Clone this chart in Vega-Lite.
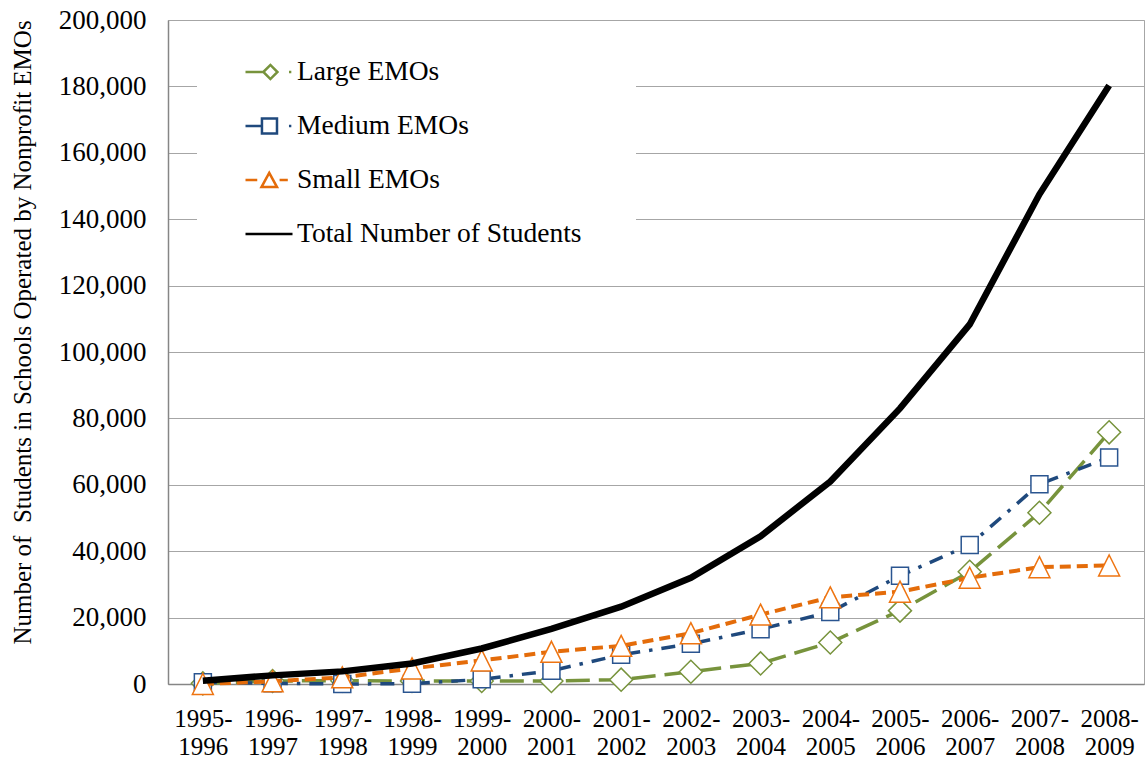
{
  "$schema": "https://vega.github.io/schema/vega-lite/v6.json",
  "width": 976,
  "height": 664,
  "autosize": {"type": "none"},
  "padding": {"left": 168, "top": 20, "right": 3, "bottom": 75},
  "background": "white",
  "config": {
    "view": {"stroke": "#a6a6a6", "strokeWidth": 1},
    "font": "Liberation Serif"
  },
  "data": {
    "values": [
      {"year": "1995-1996", "series": "Large EMOs", "value": 200},
      {"year": "1996-1997", "series": "Large EMOs", "value": 900},
      {"year": "1997-1998", "series": "Large EMOs", "value": 1000},
      {"year": "1998-1999", "series": "Large EMOs", "value": 900},
      {"year": "1999-2000", "series": "Large EMOs", "value": 900},
      {"year": "2000-2001", "series": "Large EMOs", "value": 900},
      {"year": "2001-2002", "series": "Large EMOs", "value": 1300},
      {"year": "2002-2003", "series": "Large EMOs", "value": 3700},
      {"year": "2003-2004", "series": "Large EMOs", "value": 6200},
      {"year": "2004-2005", "series": "Large EMOs", "value": 12500},
      {"year": "2005-2006", "series": "Large EMOs", "value": 22100},
      {"year": "2006-2007", "series": "Large EMOs", "value": 33800},
      {"year": "2007-2008", "series": "Large EMOs", "value": 51600},
      {"year": "2008-2009", "series": "Large EMOs", "value": 75800},
      {"year": "1995-1996", "series": "Medium EMOs", "value": 500},
      {"year": "1996-1997", "series": "Medium EMOs", "value": 200},
      {"year": "1997-1998", "series": "Medium EMOs", "value": 0},
      {"year": "1998-1999", "series": "Medium EMOs", "value": 100},
      {"year": "1999-2000", "series": "Medium EMOs", "value": 1400},
      {"year": "2000-2001", "series": "Medium EMOs", "value": 4000},
      {"year": "2001-2002", "series": "Medium EMOs", "value": 8800},
      {"year": "2002-2003", "series": "Medium EMOs", "value": 12100},
      {"year": "2003-2004", "series": "Medium EMOs", "value": 16500},
      {"year": "2004-2005", "series": "Medium EMOs", "value": 21700},
      {"year": "2005-2006", "series": "Medium EMOs", "value": 32600},
      {"year": "2006-2007", "series": "Medium EMOs", "value": 41900},
      {"year": "2007-2008", "series": "Medium EMOs", "value": 60200},
      {"year": "2008-2009", "series": "Medium EMOs", "value": 68200},
      {"year": "1995-1996", "series": "Small EMOs", "value": 0},
      {"year": "1996-1997", "series": "Small EMOs", "value": 800},
      {"year": "1997-1998", "series": "Small EMOs", "value": 2000},
      {"year": "1998-1999", "series": "Small EMOs", "value": 4700},
      {"year": "1999-2000", "series": "Small EMOs", "value": 7100},
      {"year": "2000-2001", "series": "Small EMOs", "value": 9700},
      {"year": "2001-2002", "series": "Small EMOs", "value": 11500},
      {"year": "2002-2003", "series": "Small EMOs", "value": 15300},
      {"year": "2003-2004", "series": "Small EMOs", "value": 20900},
      {"year": "2004-2005", "series": "Small EMOs", "value": 26100},
      {"year": "2005-2006", "series": "Small EMOs", "value": 27800},
      {"year": "2006-2007", "series": "Small EMOs", "value": 32000},
      {"year": "2007-2008", "series": "Small EMOs", "value": 35200},
      {"year": "2008-2009", "series": "Small EMOs", "value": 35700},
      {"year": "1995-1996", "series": "Total Number of Students", "value": 1000},
      {"year": "1996-1997", "series": "Total Number of Students", "value": 2600},
      {"year": "1997-1998", "series": "Total Number of Students", "value": 3800},
      {"year": "1998-1999", "series": "Total Number of Students", "value": 6200},
      {"year": "1999-2000", "series": "Total Number of Students", "value": 10700},
      {"year": "2000-2001", "series": "Total Number of Students", "value": 16600},
      {"year": "2001-2002", "series": "Total Number of Students", "value": 23300},
      {"year": "2002-2003", "series": "Total Number of Students", "value": 32000},
      {"year": "2003-2004", "series": "Total Number of Students", "value": 44500},
      {"year": "2004-2005", "series": "Total Number of Students", "value": 61000},
      {"year": "2005-2006", "series": "Total Number of Students", "value": 83000},
      {"year": "2006-2007", "series": "Total Number of Students", "value": 108300},
      {"year": "2007-2008", "series": "Total Number of Students", "value": 147500},
      {"year": "2008-2009", "series": "Total Number of Students", "value": 180300}
    ]
  },
  "encoding": {
    "x": {
      "field": "year",
      "type": "ordinal",
      "sort": null,
      "scale": {"type": "point", "padding": 0.5},
      "axis": {
        "title": null,
        "labelAngle": 0,
        "labelFont": "Liberation Serif",
        "labelFontSize": 25,
        "labelColor": "black",
        "labelPadding": 22,
        "labelLineHeight": 28,
        "labelOverlap": false,
        "labelExpr": "[slice(datum.label, 0, 5), slice(datum.label, 5)]",
        "ticks": false,
        "grid": false,
        "domainColor": "#868686",
        "domainWidth": 1.5
      }
    },
    "y": {
      "field": "value",
      "type": "quantitative",
      "scale": {"domain": [0, 200000], "nice": false, "zero": true},
      "axis": {
        "title": "Number of\u00a0 Students in Schools Operated by Nonprofit EMOs",
        "titleFont": "Liberation Serif",
        "titleFontSize": 25,
        "titleFontWeight": "normal",
        "titleColor": "black",
        "titleX": -146,
        "titleY": 312,
        "titleBaseline": "middle",
        "titleAlign": "center",
        "titleAngle": -90,
        "values": [0, 20000, 40000, 60000, 80000, 100000, 120000, 140000, 160000, 180000, 200000],
        "format": ",.0f",
        "labelFont": "Liberation Serif",
        "labelFontSize": 27,
        "labelColor": "black",
        "labelPadding": 22,
        "ticks": false,
        "gridColor": "#a6a6a6",
        "gridWidth": 1,
        "domainColor": "#868686",
        "domainWidth": 1.5
      }
    }
  },
  "layer": [
    {
      "transform": [{"filter": "datum.series === 'Large EMOs'"}],
      "mark": {"type": "line", "color": "#77933C", "strokeWidth": 3.5, "strokeDash": [24, 9]}
    },
    {
      "transform": [{"filter": "datum.series === 'Large EMOs'"}],
      "mark": {"type": "point", "shape": "diamond", "size": 529, "filled": true, "fill": "white", "stroke": "#77933C", "strokeWidth": 1.5, "opacity": 1}
    },
    {
      "transform": [{"filter": "datum.series === 'Medium EMOs'"}],
      "mark": {"type": "line", "color": "#1F497D", "strokeWidth": 3.5, "strokeDash": [14, 9, 3.5, 9]}
    },
    {
      "transform": [{"filter": "datum.series === 'Medium EMOs'"}],
      "mark": {"type": "point", "shape": "square", "size": 289, "filled": true, "fill": "white", "stroke": "#2A5590", "strokeWidth": 1.5, "opacity": 1}
    },
    {
      "transform": [{"filter": "datum.series === 'Small EMOs'"}],
      "mark": {"type": "line", "color": "#E46C0A", "strokeWidth": 4, "strokeDash": [11, 6]}
    },
    {
      "transform": [{"filter": "datum.series === 'Small EMOs'"}],
      "mark": {"type": "point", "shape": "M0,-1L1,1L-1,1Z", "size": 441, "filled": true, "fill": "white", "stroke": "#EE7411", "strokeWidth": 1.5, "opacity": 1}
    },
    {
      "transform": [{"filter": "datum.series === 'Total Number of Students'"}],
      "mark": {"type": "line", "color": "#000000", "strokeWidth": 6.5}
    },
    {
      "mark": {"type": "point", "opacity": 0},
      "encoding": {
        "color": {
          "field": "series",
          "type": "nominal",
          "scale": {
            "domain": ["Large EMOs", "Medium EMOs", "Small EMOs", "Total Number of Students"],
            "range": ["#77933C", "#1F497D", "#E46C0A", "#000000"]
          },
          "legend": {
            "title": ".",
            "titleOrient": "right",
            "titleColor": "white",
            "titleFontSize": 11,
            "titlePadding": 48,
            "orient": "none",
            "legendX": 29,
            "legendY": 23,
            "direction": "vertical",
            "fillColor": "white",
            "padding": 4,
            "symbolSize": 2209,
            "symbolOffset": 43,
            "labelOffset": 3,
            "labelFont": "Liberation Serif",
            "labelFontSize": 27.5,
            "labelColor": "black",
            "labelLimit": 600,
            "rowPadding": 15,
            "symbolStrokeWidth": 2.5,
            "encode": {
              "symbols": {
                "update": {
                  "opacity": {"value": 1},
                  "fill": {"value": "white"},
                  "fillOpacity": {"value": 1},
                  "strokeOpacity": {"value": 1},
                  "strokeWidth": {"signal": "datum.value === 'Total Number of Students' ? 6.5 : 2.5"}
                }
              }
            }
          }
        },
        "shape": {
          "field": "series",
          "type": "nominal",
          "scale": {
            "domain": ["Large EMOs", "Medium EMOs", "Small EMOs", "Total Number of Students"],
            "range": [
              "M-1,0H-0.24M-0.24,0L0.06,-0.3L0.36,0L0.06,0.3ZM0.85,0H0.95",
              "M-1,0H-0.3M-0.3,-0.32H0.34V0.32H-0.3ZM0.85,0H0.95",
              "M-1,0H-0.5M0.01,-0.3L0.34,0.3H-0.32ZM0.45,0H0.8",
              "M-1,0H1"
            ]
          },
          "legend": {
            "title": ".",
            "titleOrient": "right",
            "titleColor": "white",
            "titleFontSize": 11,
            "titlePadding": 48,
            "orient": "none",
            "legendX": 29,
            "legendY": 23,
            "direction": "vertical",
            "fillColor": "white",
            "padding": 4,
            "symbolSize": 2209,
            "symbolOffset": 43,
            "labelOffset": 3,
            "labelFont": "Liberation Serif",
            "labelFontSize": 27.5,
            "labelColor": "black",
            "labelLimit": 600,
            "rowPadding": 15,
            "symbolStrokeWidth": 2.5,
            "encode": {
              "symbols": {
                "update": {
                  "opacity": {"value": 1},
                  "fill": {"value": "white"},
                  "fillOpacity": {"value": 1},
                  "strokeOpacity": {"value": 1},
                  "strokeWidth": {"signal": "datum.value === 'Total Number of Students' ? 6.5 : 2.5"}
                }
              }
            }
          }
        }
      }
    }
  ]
}
